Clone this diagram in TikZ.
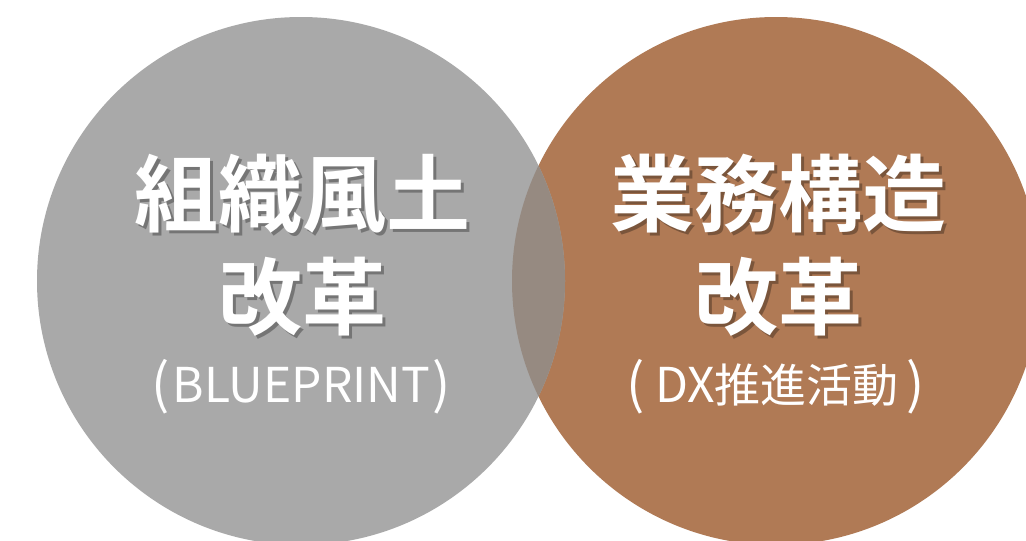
\documentclass[tikz,border=0pt]{standalone}
\usepackage{fontspec}
\newfontfamily\jp{Noto Sans CJK JP}
\newfontfamily\jpb{Noto Sans CJK JP Bold}
\definecolor{cgray}{RGB}{169,169,169}
\definecolor{cbrown}{RGB}{176,122,85}
\definecolor{cover}{RGB}{150,138,129}
\newcommand{\lat}{\fontsize{48}{48}\selectfont}
\newcommand{\cj}{\fontsize{46}{46}\selectfont}
\newcommand{\lp}{\raisebox{-1pt}{\fontsize{54}{54}\selectfont(}}
\newcommand{\rp}{\raisebox{-1pt}{\fontsize{54}{54}\selectfont)}}
\begin{document}
\begin{tikzpicture}[x=1pt,y=-1pt,
  bigtxt/.style={inner sep=0pt, text=white, font=\jpb\fontsize{84}{84}\selectfont},
  bigshadow/.style={inner sep=0pt, text=black, text opacity=0.3, font=\jpb\fontsize{84}{84}\selectfont},
  subtxt/.style={inner sep=0pt, text=white, font=\jp\lat}]
\useasboundingbox (0,0) rectangle (1026,541);
\clip (0,0) rectangle (1026,541);
\fill[white] (0,0) rectangle (1026,541);
% circles
\fill[cbrown] (776,281) circle[radius=264];
\fill[cgray] (301,281) circle[radius=264];
\begin{scope}
  \clip (776,281) circle[radius=264];
  \fill[cover] (301,281) circle[radius=264];
\end{scope}
% left texts
\node[bigshadow] (l1s) at (305,197) {組織風土};
\node[bigtxt] (l1) at (302,194) {組織風土};
\node[bigshadow] (l2s) at (305,300) {改革};
\node[bigtxt] (l2) at (302,297) {改革};
\node[subtxt] (l3) at (301,387) {\lp\hspace{3pt}BLUEPRINT\hspace{2pt}\rp};
% right texts
\node[bigshadow] (r1s) at (781,197) {業務構造};
\node[bigtxt] (r1) at (778,194) {業務構造};
\node[bigshadow] (r2s) at (781,300) {改革};
\node[bigtxt] (r2) at (778,297) {改革};
\node[subtxt] (r3) at (776,387) {\lp\hspace{10pt}DX{\cj 推進活動}\hspace{8pt}\rp};
\end{tikzpicture}
\end{document}
